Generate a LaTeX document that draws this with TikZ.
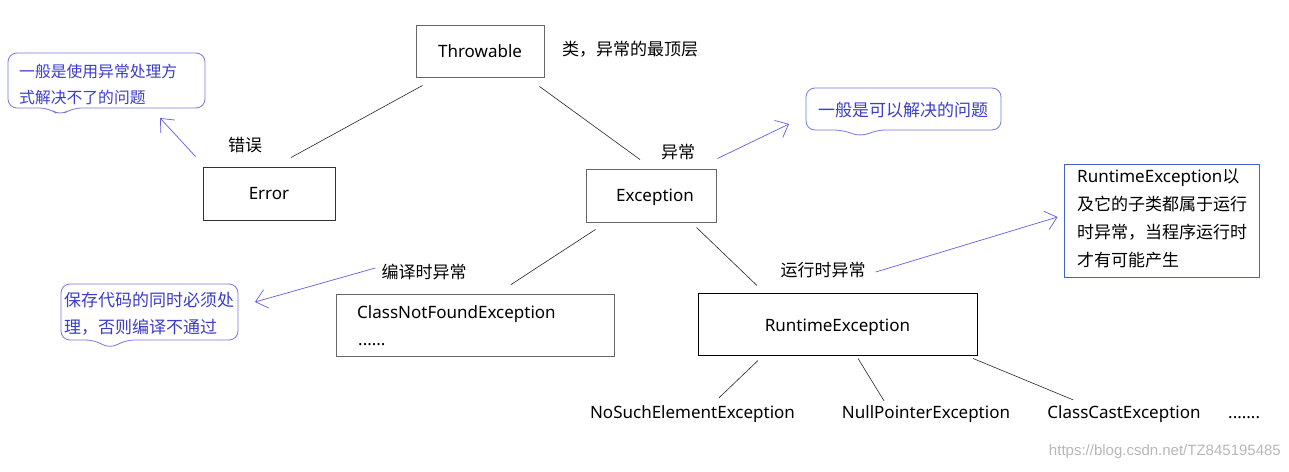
\documentclass[tikz,border=0pt]{standalone}
\usepackage{fontspec}
\setmainfont{Noto Sans}
\newfontfamily\cjk{Noto Sans CJK SC}
\newfontfamily\wmfont{Liberation Sans}
\usetikzlibrary{arrows.meta,calc}
\definecolor{bluearrow}{RGB}{95,95,235}
\definecolor{bubbleline}{RGB}{120,120,225}
\definecolor{bubbletext}{RGB}{60,60,205}
\definecolor{infoline}{RGB}{70,95,215}
\begin{document}
\begin{tikzpicture}[x=1pt,y=-1pt,
  txt/.style={inner sep=0pt, text height=13pt, text depth=3pt, font=\fontsize{17}{20}\selectfont},
  ctxt/.style={txt, font=\fontsize{17}{20}\selectfont\cjk},
  btxt/.style={txt, text=bubbletext, font=\fontsize{#1}{20}\selectfont\cjk},
  box/.style={draw=#1, line width=0.9pt, inner sep=0pt, text height=15pt, text depth=3pt, font=\fontsize{17}{20}\selectfont},
  tree/.style={draw=black!85, line width=0.6pt},
  note/.style={draw=bluearrow, line width=0.7pt, -{Straight Barb[length=11pt,width=19pt]}},
  bubble/.style={draw=bubbleline, line width=0.8pt, rounded corners=9pt}
]
\useasboundingbox[fill=white] (0,0) rectangle (1289,471);

% boxes
\node[box=black!60, minimum width=128pt, minimum height=52pt] (thr) at (480,51) {Throwable};
\node[box=black!80, minimum width=132pt, minimum height=53pt] (err) at (269,193.5) {Error};
\node[box=black!60, minimum width=130pt, minimum height=53pt] (exc) at (651,195.5) {\hspace{8pt}Exception};
\node[box=black!60, minimum width=278pt, minimum height=62pt] (cnf) at (475,325) {};
\node[box=black, minimum width=279pt, minimum height=62pt, text height=18pt] (rte) at (837.5,324) {RuntimeException\hspace{14pt}};
\node[box=infoline, minimum width=195pt, minimum height=113pt] (info) at (1161.5,220.5) {};

% texts in boxes
\node[txt, anchor=west] (cnft) at (357,313) {ClassNotFoundException};
\node[txt, anchor=west] (cnfd) at (358,340) {......};
\node[txt, anchor=west] (inf1) at (1077,177) {RuntimeException{\cjk 以}};
\node[ctxt, anchor=west] (inf2) at (1077,205) {及它的子类都属于运行};
\node[ctxt, anchor=west] (inf3) at (1077,233) {时异常，当程序运行时};
\node[ctxt, anchor=west] (inf4) at (1077,261) {才有可能产生};

% labels
\node[ctxt, anchor=west] (top) at (562,50) {类，异常的最顶层};
\node[ctxt] (errl) at (245,146) {错误};
\node[ctxt] (excl) at (678,153) {异常};
\node[ctxt] (cmpl) at (424,273) {编译时异常};
\node[ctxt] (rtl) at (823,271) {运行时异常};

% leaves
\node[txt] (nse) at (692.5,413) {NoSuchElementException};
\node[txt] (npe) at (926,413) {NullPointerException};
\node[txt] (cce) at (1124,413) {ClassCastException};
\node[txt, anchor=west] (more) at (1228,413) {.......};

% bubbles
\draw[bubble] (8,53) -- (205,53) -- (205,108) -- (72,108) -- (60,116) -- (49,108) -- (8,108) -- cycle;
\node[btxt=15.8, anchor=west] (b1a) at (19,72) {一般是使用异常处理方};
\node[btxt=15.8, anchor=west] (b1b) at (19,98) {式解决不了的问题};
\coordinate (b1tip) at (160,118);

\draw[bubble] (806,88) -- (1001,88) -- (1001,130) -- (876,130) -- (861,137) -- (843,130) -- (806,130) -- cycle;
\node[btxt=17, anchor=west] (b2) at (818,111) {一般是可以解决的问题};
\coordinate (b2tip) at (789,124);

\draw[bubble] (61,284) -- (238,284) -- (238,340) -- (125,340) -- (110,349) -- (95,340) -- (61,340) -- cycle;
\node[btxt=17, anchor=west] (b3a) at (64,301) {保存代码的同时必须处};
\node[btxt=17, anchor=west] (b3b) at (64,328) {理，否则编译不通过};
\coordinate (b3tip) at (255,302);

% tree connectors
\draw[tree] ($(thr.south west)+(7,8)$) -- ($(err.north)+(22,-9)$);
\draw[tree] ($(thr.south east)+(-5,9)$) -- ($(exc.north)+(-11,-9)$);
\draw[tree] ($(exc.south west)+(10,7)$) -- ($(cnf.north)+(36,-9)$);
\draw[tree] ($(exc.south east)+(-20,5)$) -- ($(rte.north)+(-80.5,-7)$);
\draw[tree] ($(rte.south)+(-79.5,5)$) -- ($(nse.north)+(26.5,-7)$);
\draw[tree] ($(rte.south)+(20.5,3)$) -- ($(npe.north)+(-42,-4)$);
\draw[tree] ($(rte.south)+(135.5,3)$) -- ($(cce.north)+(-51,-5)$);

% notes
\draw[note] ($(err.north west)+(-7,-10)$) -- (b1tip);
\draw[note] ($(exc.north east)+(1,-10)$) -- (b2tip);
\draw[note] ($(cmpl.west)+(-6,-5)$) -- (b3tip);
\draw[note] ($(rtl.east)+(10,1)$) -- ($(info.west)+(-6,-3.5)$);

% watermark
\node[inner sep=0pt, anchor=east, text=black!28, font=\fontsize{15}{18}\selectfont\wmfont] (wm) at (1281,452) {https://blog.csdn.net/TZ845195485};
\end{tikzpicture}
\end{document}
